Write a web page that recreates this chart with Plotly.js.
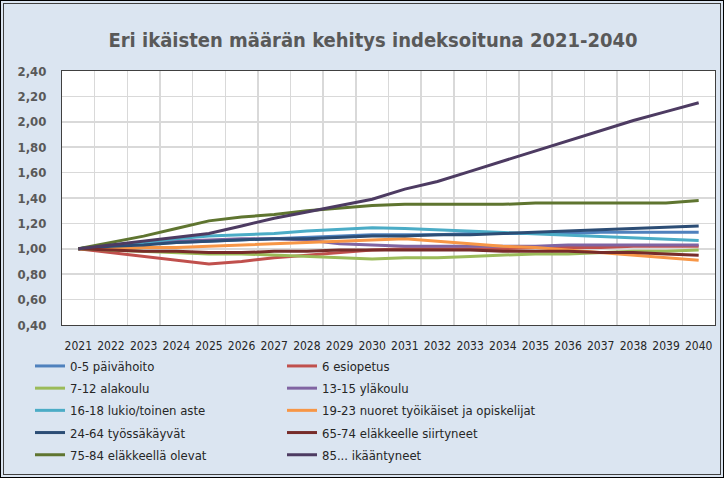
<!DOCTYPE html>
<html>
<head>
<meta charset="utf-8">
<script src="https://cdn.plot.ly/plotly-3.0.1.min.js"></script>
<style>
  html, body { margin: 0; padding: 0; background: #DBE5F1; }
  #wrap { position: relative; width: 724px; height: 478px; }
  #chart { width: 724px; height: 478px; }
  #frame1 { position: absolute; left: 0; top: 0; width: 722px; height: 476px; border: 1px solid #000; pointer-events: none; }
  #frame2 { position: absolute; left: 3px; top: 3px; width: 716px; height: 470px; border: 1px solid #404040; pointer-events: none; }
</style>
</head>
<body>
<div id="wrap">
  <div id="chart"></div>
  <div id="frame1"></div>
  <div id="frame2"></div>
</div>
<script>
const years = ["2021","2022","2023","2024","2025","2026","2027","2028","2029","2030",
               "2031","2032","2033","2034","2035","2036","2037","2038","2039","2040"];

const seriesNames = ["0-5 päivähoito", "6 esiopetus", "7-12 alakoulu", "13-15 yläkoulu",
  "16-18 lukio/toinen aste", "19-23 nuoret työikäiset ja opiskelijat", "24-64 työssäkäyvät",
  "65-74 eläkkeelle siirtyneet", "75-84 eläkkeellä olevat", "85... ikääntyneet"];

const v0_5   = [1.00,1.02,1.04,1.05,1.06,1.07,1.08,1.09,1.10,1.11,1.11,1.11,1.12,1.12,1.12,1.12,1.13,1.13,1.13,1.13];
const v6     = [1.00,0.97,0.94,0.91,0.88,0.90,0.93,0.95,0.97,0.99,1.00,1.00,1.00,1.00,1.01,1.01,1.01,1.02,1.02,1.02];
const v7_12  = [1.00,0.99,0.98,0.97,0.96,0.96,0.95,0.94,0.935,0.92,0.93,0.93,0.94,0.95,0.96,0.96,0.97,0.98,0.98,0.99];
const v13_15 = [1.00,1.02,1.04,1.06,1.07,1.08,1.08,1.07,1.04,1.03,1.02,1.02,1.02,1.02,1.02,1.03,1.03,1.03,1.03,1.03];
const v16_18 = [1.00,1.03,1.05,1.08,1.10,1.11,1.12,1.14,1.155,1.165,1.16,1.15,1.14,1.13,1.12,1.11,1.10,1.09,1.08,1.065];
const v19_23 = [1.00,1.00,1.01,1.01,1.02,1.03,1.04,1.05,1.06,1.07,1.08,1.06,1.04,1.02,1.01,0.99,0.97,0.95,0.93,0.91];
const v24_64 = [1.00,1.02,1.03,1.05,1.06,1.07,1.08,1.08,1.09,1.10,1.10,1.11,1.11,1.12,1.13,1.14,1.15,1.16,1.17,1.18];
const v65_74 = [1.00,0.99,0.98,0.98,0.97,0.97,0.98,0.98,0.99,0.99,0.99,0.99,0.99,0.98,0.98,0.98,0.97,0.97,0.96,0.95];
const v75_84 = [1.00,1.05,1.10,1.16,1.22,1.25,1.27,1.30,1.32,1.34,1.35,1.35,1.35,1.35,1.36,1.36,1.36,1.36,1.36,1.38];
const v85    = [1.00,1.03,1.06,1.09,1.12,1.18,1.24,1.29,1.34,1.39,1.47,1.53,1.61,1.69,1.77,1.85,1.93,2.01,2.08,2.15];

const yTickVals = [0.4,0.6,0.8,1.0,1.2,1.4,1.6,1.8,2.0,2.2,2.4];

const allValues = [v0_5, v6, v7_12, v13_15, v16_18, v19_23, v24_64, v65_74, v75_84, v85];
const colors = ["#4F81BD","#C0504D","#9BBB59","#8064A2","#4BACC6","#F79646","#2C4D75","#772C2A","#5F7530","#4D3B62"];
const legendOf = ["legend","legend2","legend","legend2","legend","legend2","legend","legend2","legend","legend2"];

const FONT = "Liberation Sans Narrow, DejaVu Sans Condensed, Roboto Condensed, Arial Narrow, sans-serif";
const xIdx = years.map((_, i) => i);

const traces = allValues.map((vals, k) => ({
  type: "scatter",
  mode: "lines",
  x: xIdx,
  y: vals,
  name: seriesNames[k],
  legend: legendOf[k],
  legendgroup: "g" + k,
  line: { color: colors[k], width: 3 },
  hoverinfo: "skip"
}));

const legendCommon = {
  orientation: "v",
  bgcolor: "rgba(0,0,0,0)",
  borderwidth: 0,
  font: { family: FONT, size: 13, color: "#262626" },
  itemwidth: 30,
  tracegroupgap: 2.3,
  traceorder: "grouped",
  yanchor: "top",
  xanchor: "left"
};

const layout = {
  width: 724,
  height: 478,
  paper_bgcolor: "#DBE5F1",
  plot_bgcolor: "#FFFFFF",
  separators: ", ",
  margin: { l: 62, r: 9, t: 71, b: 152, pad: 0 },
  title: {
    text: "<b>Eri ikäisten määrän kehitys indeksoituna 2021-2040</b>",
    font: { family: FONT, size: 20, color: "#595959" },
    x: 373 / 724, xref: "container", xanchor: "center",
    y: 1 - 40 / 478, yref: "container", yanchor: "middle"
  },
  showlegend: true,
  legend: Object.assign({}, legendCommon, { x: (30 - 62) / 653, y: (326 - 351) / 255 }),
  legend2: Object.assign({}, legendCommon, { x: (282 - 62) / 653, y: (326 - 351) / 255 }),
  xaxis: {
    type: "linear",
    range: [-0.5, 19.5],
    tickmode: "array",
    tickvals: xIdx,
    ticktext: years,
    showgrid: false,
    zeroline: false,
    showline: true,
    mirror: true,
    linecolor: "#404040",
    linewidth: 1,
    ticks: "",
    ticklabelstandoff: 10,
    tickfont: { family: FONT, size: 12, color: "#262626" },
    minor: {
      tickmode: "array",
      tickvals: xIdx.slice(0, -1).map(i => i + 0.5),
      showgrid: true,
      gridcolor: "#D9D9D9",
      gridwidth: 1.5,
      ticks: ""
    },
    fixedrange: true
  },
  yaxis: {
    range: [0.4, 2.4],
    tickmode: "array",
    tickvals: yTickVals,
    tickformat: ".2f",
    showgrid: true,
    gridcolor: "#D9D9D9",
    gridwidth: 1.5,
    zeroline: false,
    showline: true,
    mirror: true,
    linecolor: "#404040",
    linewidth: 1,
    ticks: "",
    ticklabelstandoff: 12,
    tickfont: { family: FONT, size: 13, color: "#595959", weight: "bold" },
    fixedrange: true
  }
};

Plotly.newPlot("chart", traces, layout, { staticPlot: true, displayModeBar: false });
</script>
</body>
</html>
